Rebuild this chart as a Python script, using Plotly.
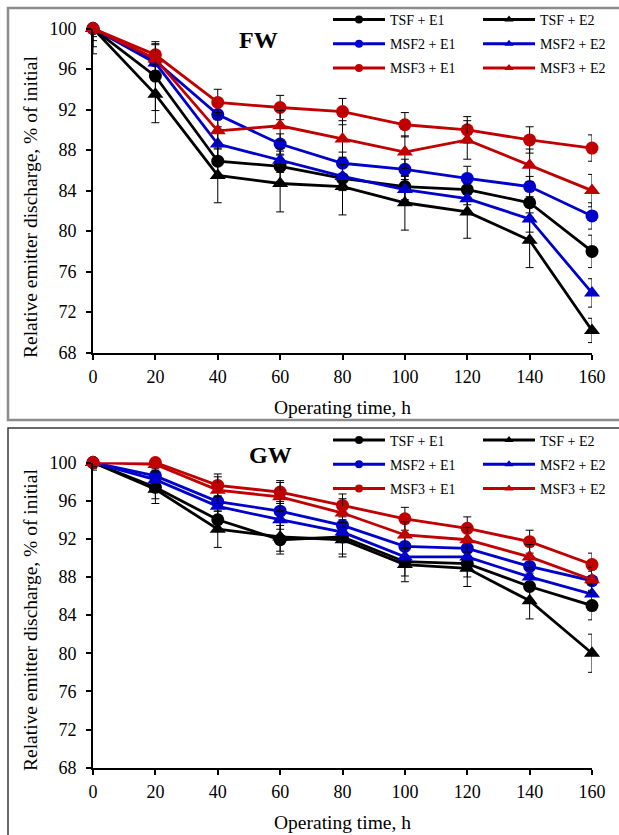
import numpy as np
import plotly.graph_objects as go

# ---------------- data ----------------
hours = [0, 20, 40, 60, 80, 100, 120, 140, 160]
series_names = ["TSF + E1", "TSF + E2", "MSF2 + E1", "MSF2 + E2", "MSF3 + E1", "MSF3 + E2"]
y_ticks = [68, 72, 76, 80, 84, 88, 92, 96, 100]

# FW panel (relative emitter discharge, % of initial)
fw_tsf_e1 = [100, 95.3, 86.9, 86.4, 85.2, 84.4, 84.1, 82.8, 78.0]
fw_tsf_e2 = [100, 93.5, 85.5, 84.7, 84.4, 82.8, 81.9, 79.1, 70.2]
fw_msf2_e1 = [100, 96.8, 91.5, 88.6, 86.7, 86.1, 85.2, 84.4, 81.5]
fw_msf2_e2 = [100, 96.6, 88.6, 87.0, 85.4, 84.1, 83.2, 81.2, 73.9]
fw_msf3_e1 = [100, 97.4, 92.7, 92.2, 91.8, 90.5, 90.0, 89.0, 88.2]
fw_msf3_e2 = [100, 97.0, 89.9, 90.4, 89.1, 87.8, 89.0, 86.5, 84.0]

fw_err_tsf_e1 = [0.5, 3.4, 1.5, 1.5, 1.2, 1.3, 1.5, 1.5, 1.6]
fw_err_tsf_e2 = [2.5, 2.8, 2.7, 2.8, 2.8, 2.7, 2.6, 2.7, 1.2]
fw_err_msf2_e1 = [0.8, 1.0, 1.2, 1.0, 1.1, 1.0, 1.2, 1.0, 1.3]
fw_err_msf2_e2 = [1.2, 1.2, 1.3, 1.2, 1.2, 1.3, 1.5, 1.3, 1.4]
fw_err_msf3_e1 = [0.4, 1.0, 1.3, 1.2, 1.3, 1.2, 1.3, 1.3, 1.3]
fw_err_msf3_e2 = [1.8, 1.5, 1.8, 1.5, 1.8, 1.6, 1.9, 1.6, 1.6]

# GW panel
gw_tsf_e1 = [100, 97.4, 94.0, 91.9, 92.2, 89.6, 89.4, 87.0, 85.0]
gw_tsf_e2 = [100, 97.2, 93.0, 92.2, 91.9, 89.3, 88.9, 85.5, 80.0]
gw_msf2_e1 = [100, 98.6, 95.9, 94.9, 93.4, 91.2, 91.0, 89.1, 87.6]
gw_msf2_e2 = [100, 98.2, 95.4, 94.0, 92.7, 90.1, 90.1, 88.0, 86.2]
gw_msf3_e1 = [100, 100, 97.6, 96.9, 95.5, 94.1, 93.1, 91.7, 89.3]
gw_msf3_e2 = [100, 99.8, 97.1, 96.4, 94.7, 92.4, 91.9, 90.1, 87.7]

gw_err_tsf_e1 = [0.3, 1.2, 1.2, 1.5, 1.8, 1.5, 1.4, 1.4, 1.5]
gw_err_tsf_e2 = [0.8, 1.5, 1.9, 1.5, 1.8, 1.8, 1.9, 1.9, 2.0]
gw_err_msf2_e1 = [0.5, 1.0, 1.0, 1.0, 1.1, 1.0, 1.0, 1.0, 1.0]
gw_err_msf2_e2 = [0.6, 1.0, 1.1, 1.0, 1.0, 1.0, 1.0, 1.0, 1.0]
gw_err_msf3_e1 = [0.3, 0.6, 1.2, 1.2, 1.2, 1.2, 1.2, 1.2, 1.2]
gw_err_msf3_e2 = [0.4, 0.8, 1.4, 1.5, 1.5, 1.4, 1.3, 1.3, 1.3]

fw_values = [fw_tsf_e1, fw_tsf_e2, fw_msf2_e1, fw_msf2_e2, fw_msf3_e1, fw_msf3_e2]
fw_errors = [fw_err_tsf_e1, fw_err_tsf_e2, fw_err_msf2_e1, fw_err_msf2_e2, fw_err_msf3_e1, fw_err_msf3_e2]
gw_values = [gw_tsf_e1, gw_tsf_e2, gw_msf2_e1, gw_msf2_e2, gw_msf3_e1, gw_msf3_e2]
gw_errors = [gw_err_tsf_e1, gw_err_tsf_e2, gw_err_msf2_e1, gw_err_msf2_e2, gw_err_msf3_e1, gw_err_msf3_e2]

# ---------------- styles ----------------
W, H = 619, 835
SERIF = "Liberation Serif, Times New Roman, serif"
colors = {"TSF": "#000000", "MSF2": "#0000CC", "MSF3": "#C00000"}
symbols = {"E1": "circle", "E2": "triangle-up"}
msize = {"E1": 13, "E2": 14}


def px_x(p):
    return p / W


def px_y(p):
    return 1 - p / H


fig = go.Figure()

panels = [
    ("x", "y", fw_values, fw_errors, ["legend", "legend2"]),
    ("x2", "y2", gw_values, gw_errors, ["legend3", "legend4"]),
]

ymax = y_ticks[-1]
for xa, ya, values, errors, legs in panels:
    # data traces
    for name, vals, err in zip(series_names, values, errors):
        fam, emit = [s.strip() for s in name.split("+")]
        vals = np.array(vals, dtype=float)
        err = np.array(err, dtype=float)
        upper = np.minimum(err, ymax - vals)  # bars clipped at the axis maximum
        fig.add_trace(go.Scatter(
            x=hours, y=vals, mode="lines+markers", xaxis=xa, yaxis=ya,
            name=name, showlegend=False, cliponaxis=False,
            line=dict(color=colors[fam], width=2.8),
            marker=dict(symbol=symbols[emit], size=msize[emit], color=colors[fam]),
            error_y=dict(type="data", array=upper, arrayminus=err, symmetric=False,
                         color="#000000", thickness=1, width=4),
        ))
    # legend proxies (small markers like the original legend)
    for i, name in enumerate(series_names):
        fam, emit = [s.strip() for s in name.split("+")]
        fig.add_trace(go.Scatter(
            x=[None], y=[None], mode="lines+markers", xaxis=xa, yaxis=ya,
            name=name, legend=legs[i % 2], legendgroup=name + xa,
            line=dict(color=colors[fam], width=3),
            marker=dict(symbol=symbols[emit], size=8, color=colors[fam]),
        ))

axis_common = dict(
    showline=True, linecolor="#000000", linewidth=2, mirror=False,
    showgrid=False, zeroline=False, ticks="outside", ticklen=5, tickwidth=1.5,
    tickcolor="#000000", tickfont=dict(family=SERIF, size=18, color="#000000"),
    automargin=False,
)

x_dom = [px_x(93), px_x(592)]
fig.update_layout(
    width=W, height=H, margin=dict(l=0, r=0, t=0, b=0, autoexpand=False),
    paper_bgcolor="white", plot_bgcolor="white",
    font=dict(family=SERIF, color="#000000"),
    xaxis=dict(domain=x_dom, range=[0, 160], tickvals=hours, anchor="y",
               ticklabelstandoff=2, **axis_common),
    yaxis=dict(domain=[px_y(352.7), px_y(28.5)], range=[68, 100], tickvals=y_ticks,
               anchor="x", ticklabelstandoff=6, **axis_common),
    xaxis2=dict(domain=x_dom, range=[0, 160], tickvals=hours, anchor="y2",
                ticklabelstandoff=2, **axis_common),
    yaxis2=dict(domain=[px_y(767.7), px_y(462.5)], range=[68, 100], tickvals=y_ticks,
                anchor="x2", ticklabelstandoff=6, **axis_common),
)

leg_common = dict(
    orientation="v", xanchor="left", yanchor="top", bgcolor="rgba(0,0,0,0)",
    font=dict(family=SERIF, size=14, color="#000000"), itemwidth=52,
    tracegroupgap=3, traceorder="grouped", itemclick=False, itemdoubleclick=False,
)
fig.update_layout(
    legend=dict(x=px_x(328), y=px_y(4), **leg_common),
    legend2=dict(x=px_x(478), y=px_y(4), **leg_common),
    legend3=dict(x=px_x(328), y=px_y(424.5), **leg_common),
    legend4=dict(x=px_x(478), y=px_y(424.5), **leg_common),
)

ann = []
title_font = dict(family=SERIF, size=19.5, color="#000000")
for yc in (207, 620):
    ann.append(dict(text="Relative emitter discharge, % of initial", x=px_x(30), y=px_y(yc),
                    xref="paper", yref="paper", showarrow=False, textangle=-90,
                    xanchor="center", yanchor="middle", font=title_font))
for yc in (407, 822):
    ann.append(dict(text="Operating time, h", x=px_x(342), y=px_y(yc), xref="paper", yref="paper",
                    showarrow=False, xanchor="center", yanchor="middle", font=title_font))
ann.append(dict(text="<b>FW</b>", x=px_x(258), y=px_y(40), xref="paper", yref="paper",
                showarrow=False, xanchor="center", yanchor="middle",
                font=dict(family=SERIF, size=24, color="#000000")))
ann.append(dict(text="<b>GW</b>", x=px_x(270), y=px_y(455), xref="paper", yref="paper",
                showarrow=False, xanchor="center", yanchor="middle",
                font=dict(family=SERIF, size=24, color="#000000")))
fig.update_layout(annotations=ann)

fig.update_layout(shapes=[
    dict(type="rect", xref="paper", yref="paper", x0=px_x(8), x1=1.02, y0=px_y(420), y1=px_y(8),
         line=dict(color="#8c8c8c", width=2.5), fillcolor="rgba(0,0,0,0)", layer="below"),
    dict(type="rect", xref="paper", yref="paper", x0=px_x(8), x1=1.02, y0=-0.02, y1=px_y(428),
         line=dict(color="#3a3a3a", width=1.5), fillcolor="rgba(0,0,0,0)", layer="below"),
])

fig.write_html("out.html", config={"displayModeBar": False},
               post_script="document.body.style.margin='0px';")
